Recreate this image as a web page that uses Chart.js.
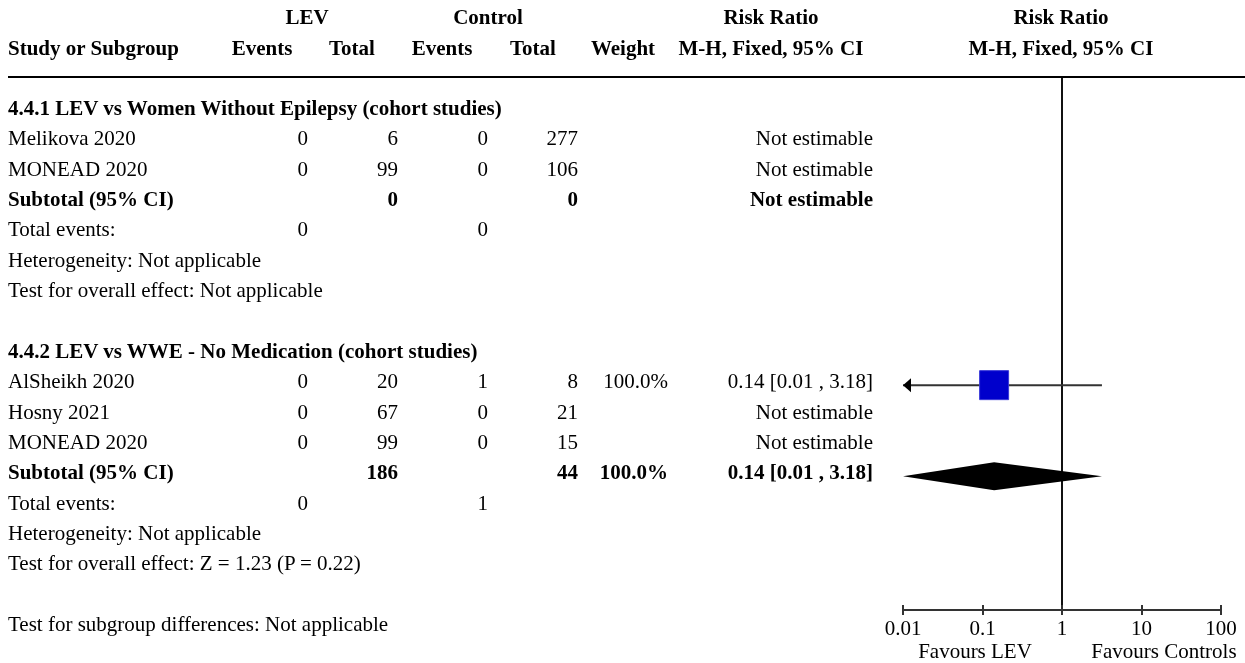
<!DOCTYPE html>
<html><head><meta charset="utf-8">
<script src="https://cdn.jsdelivr.net/npm/chart.js@4/dist/chart.umd.min.js"></script>
<style>
html,body{margin:0;padding:0;background:#fff;}
#wrap{position:relative;width:1245px;height:663px;overflow:hidden;font-family:'Liberation Serif','Times New Roman',serif;font-size:21px;color:#000;}
#c{position:absolute;left:0;top:0;}
.t{position:absolute;white-space:nowrap;line-height:1;transform:translateY(-50%);}
.t.r{transform:translate(-100%,-50%);}
.t.ctr{transform:translate(-50%,-50%);}
.b{font-weight:bold;}
.rule{position:absolute;left:8px;right:0;top:76px;height:2px;background:#000;}
</style></head><body>
<div id="wrap"><canvas id="c" width="1245" height="663"></canvas><div class="rule"></div></div>
<script>
// ---------- data ----------
const groupNames = ['4.4.1 LEV vs Women Without Epilepsy (cohort studies)', '4.4.2 LEV vs WWE - No Medication (cohort studies)'];
const studyNames = ['Melikova 2020', 'MONEAD 2020', 'AlSheikh 2020', 'Hosny 2021', 'MONEAD 2020'];
const studyGroup = [0, 0, 1, 1, 1];
const levEvents = [0, 0, 0, 0, 0];
const levTotal = [6, 99, 20, 67, 99];
const ctrlEvents = [0, 0, 1, 0, 0];
const ctrlTotal = [277, 106, 8, 21, 15];
const studyWeight = [null, null, 100.0, null, null];
const studyRR = [null, null, 0.14, null, null];
const studyLower = [null, null, 0.01, null, null];
const studyUpper = [null, null, 3.18, null, null];
const groupLevTotal = [0, 186];
const groupCtrlTotal = [0, 44];
const groupLevEvents = [0, 0];
const groupCtrlEvents = [0, 1];
const groupWeight = [null, 100.0];
const groupRR = [null, 0.14];
const groupLower = [null, 0.01];
const groupUpper = [null, 3.18];
const groupHeterogeneity = ['Not applicable', 'Not applicable'];
const groupOverall = ['Not applicable', 'Z = 1.23 (P = 0.22)'];
const subgroupDifferences = 'Not applicable';
const tickValues = [0.01, 0.1, 1, 10, 100];
const tickLabels = ['0.01', '0.1', '1', '10', '100'];
const favourLabels = ['Favours LEV', 'Favours Controls'];

// ---------- layout ----------
const ROW0 = 108, STEP = 30.35, MARK_SHIFT = 4;
const COL = {levE: 308, levT: 398, ctlE: 488, ctlT: 578, w: 668, rr: 873};
const wrap = document.getElementById('wrap');
function txt(s, x, y, cls) {
  const d = document.createElement('div');
  d.className = 't ' + (cls || '');
  d.textContent = s;
  d.style.left = x + 'px';
  d.style.top = y + 'px';
  wrap.appendChild(d);
}
// headers
txt('LEV', 307, 17, 'b ctr');
txt('Control', 488, 17, 'b ctr');
txt('Risk Ratio', 771, 17, 'b ctr');
txt('Risk Ratio', 1061, 17, 'b ctr');
txt('Study or Subgroup', 8, 48, 'b');
txt('Events', 262, 48, 'b ctr');
txt('Total', 352, 48, 'b ctr');
txt('Events', 442, 48, 'b ctr');
txt('Total', 533, 48, 'b ctr');
txt('Weight', 623, 48, 'b ctr');
txt('M-H, Fixed, 95% CI', 771, 48, 'b ctr');
txt('M-H, Fixed, 95% CI', 1061, 48, 'b ctr');

const fmtW = w => w.toFixed(1) + '%';
const fmtRR = (r, l, u) => r == null ? 'Not estimable' : `${r.toFixed(2)} [${l.toFixed(2)} , ${u.toFixed(2)}]`;

let row = 0;
const studyRows = [], groupRows = [];
groupNames.forEach((g, gi) => {
  const y = () => ROW0 + row * STEP;
  txt(g, 8, y(), 'b'); row++;
  studyNames.forEach((s, si) => {
    if (studyGroup[si] !== gi) return;
    txt(s, 8, y());
    txt(String(levEvents[si]), COL.levE, y(), 'r');
    txt(String(levTotal[si]), COL.levT, y(), 'r');
    txt(String(ctrlEvents[si]), COL.ctlE, y(), 'r');
    txt(String(ctrlTotal[si]), COL.ctlT, y(), 'r');
    if (studyWeight[si] != null) txt(fmtW(studyWeight[si]), COL.w, y(), 'r');
    txt(fmtRR(studyRR[si], studyLower[si], studyUpper[si]), COL.rr, y(), 'r');
    studyRows[si] = row;
    row++;
  });
  txt('Subtotal (95% CI)', 8, y(), 'b');
  txt(String(groupLevTotal[gi]), COL.levT, y(), 'b r');
  txt(String(groupCtrlTotal[gi]), COL.ctlT, y(), 'b r');
  if (groupWeight[gi] != null) txt(fmtW(groupWeight[gi]), COL.w, y(), 'b r');
  txt(fmtRR(groupRR[gi], groupLower[gi], groupUpper[gi]), COL.rr, y(), 'b r');
  groupRows[gi] = row;
  row++;
  txt('Total events:', 8, y());
  txt(String(groupLevEvents[gi]), COL.levE, y(), 'r');
  txt(String(groupCtrlEvents[gi]), COL.ctlE, y(), 'r');
  row++;
  txt('Heterogeneity: ' + groupHeterogeneity[gi], 8, y()); row++;
  txt('Test for overall effect: ' + groupOverall[gi], 8, y()); row++;
  row++;
});
txt('Test for subgroup differences: ' + subgroupDifferences, 8, ROW0 + row * STEP);
txt(favourLabels[0], 975, 651, 'ctr');
txt(favourLabels[1], 1164, 651, 'ctr');

// ---------- chart ----------
const PLOT_TOP = 77, PLOT_BOTTOM = 610, AXIS_H = 30;
const yMin = (PLOT_TOP - ROW0 - MARK_SHIFT) / STEP, yMax = (PLOT_BOTTOM - ROW0 - MARK_SHIFT) / STEP;
const AX_MIN = tickValues[0], AX_MAX = tickValues[tickValues.length - 1];
const TICK_PAD = 2, TICK_LEN = 5;

const datasets = [];
datasets.push({type: 'line', data: [{x: 1, y: yMin}, {x: 1, y: yMax}], borderColor: '#111', borderWidth: 2, pointRadius: 0, order: 5});
studyRR.forEach((r, si) => {
  if (r == null) return;
  datasets.push({type: 'line', data: [{x: Math.max(studyLower[si], AX_MIN), y: studyRows[si]}, {x: Math.min(studyUpper[si], AX_MAX), y: studyRows[si]}],
    borderColor: '#333', borderWidth: 2, pointRadius: 0, order: 4});
  datasets.push({type: 'scatter', data: [{x: r, y: studyRows[si]}], pointStyle: 'rect',
    pointRadius: 20.5 * Math.sqrt(studyWeight[si] / 100), backgroundColor: '#0000CC', borderColor: '#3a3ad8', borderWidth: 1, order: 1});
});

const forestPlugin = {
  id: 'forest',
  afterDatasetsDraw(chart) {
    const ctx = chart.ctx, xs = chart.scales.x, ys = chart.scales.y;
    ctx.save();
    studyRR.forEach((r, si) => {
      if (r == null) return;
      const py = ys.getPixelForValue(studyRows[si]);
      ctx.fillStyle = '#000';
      if (studyLower[si] <= AX_MIN) {
        const px = xs.getPixelForValue(AX_MIN);
        ctx.beginPath(); ctx.moveTo(px, py); ctx.lineTo(px + 8, py - 7); ctx.lineTo(px + 8, py + 7); ctx.closePath(); ctx.fill();
      }
      if (studyUpper[si] >= AX_MAX) {
        const px = xs.getPixelForValue(AX_MAX);
        ctx.beginPath(); ctx.moveTo(px, py); ctx.lineTo(px - 8, py - 7); ctx.lineTo(px - 8, py + 7); ctx.closePath(); ctx.fill();
      }
    });
    groupRR.forEach((r, gi) => {
      if (r == null) return;
      const py = ys.getPixelForValue(groupRows[gi]);
      const h = 14;
      ctx.fillStyle = '#000';
      ctx.beginPath();
      ctx.moveTo(xs.getPixelForValue(Math.max(groupLower[gi], AX_MIN)), py);
      ctx.lineTo(xs.getPixelForValue(r), py - h);
      ctx.lineTo(xs.getPixelForValue(Math.min(groupUpper[gi], AX_MAX)), py);
      ctx.lineTo(xs.getPixelForValue(r), py + h);
      ctx.closePath(); ctx.fill();
    });
    ctx.strokeStyle = '#333'; ctx.lineWidth = 2;
    tickValues.forEach(v => {
      const px = Math.round(xs.getPixelForValue(v));
      ctx.beginPath(); ctx.moveTo(px, xs.top); ctx.lineTo(px, xs.top - 5); ctx.stroke();
    });
    ctx.restore();
  }
};

new Chart(document.getElementById('c'), {
  type: 'scatter',
  data: {datasets},
  plugins: [forestPlugin],
  options: {
    responsive: false, animation: false, devicePixelRatio: 1,
    layout: {padding: {left: 903, right: 24, top: PLOT_TOP, bottom: 663 - PLOT_BOTTOM - AXIS_H}},
    plugins: {legend: {display: false}, tooltip: {enabled: false}},
    scales: {
      x: {
        type: 'logarithmic', min: AX_MIN, max: AX_MAX, position: 'bottom',
        afterBuildTicks: s => { s.ticks = tickValues.map(v => ({value: v})); },
        afterFit: s => { s.height = AXIS_H; },
        grid: {drawOnChartArea: false, drawTicks: true, tickLength: TICK_LEN, color: '#333', lineWidth: 2},
        border: {display: true, color: '#333', width: 2},
        ticks: {autoSkip: false, maxRotation: 0, minRotation: 0, padding: TICK_PAD, color: '#000',
          font: {family: 'Liberation Serif', size: 21, lineHeight: 1.2},
          callback: (v) => { const i = tickValues.indexOf(v); return i >= 0 ? tickLabels[i] : ''; }}
      },
      y: {type: 'linear', min: yMin, max: yMax, reverse: true, display: false}
    }
  }
});
</script>
</body></html>
